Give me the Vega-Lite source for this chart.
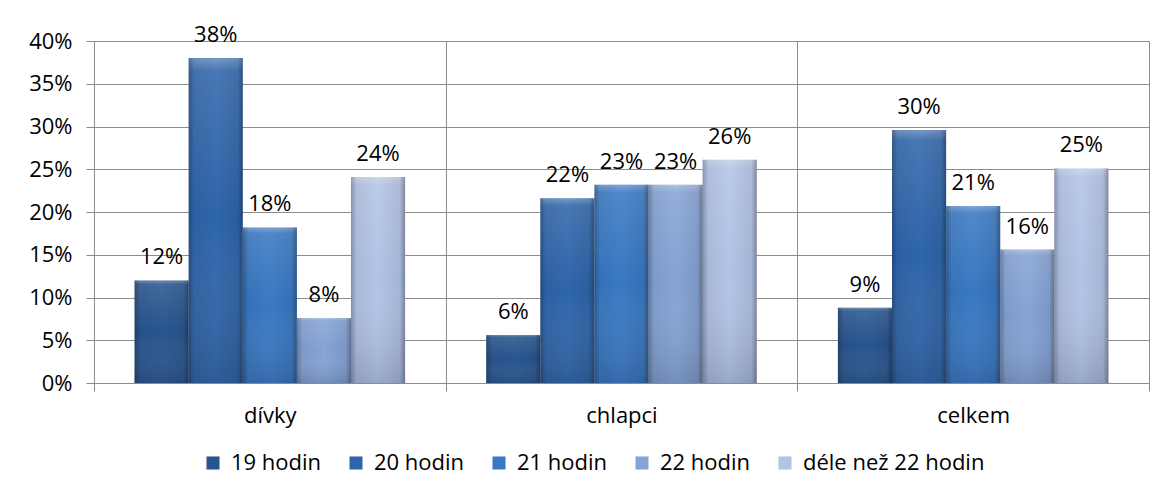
{
  "$schema": "https://vega.github.io/schema/vega-lite/v6.json",
  "width": 1055,
  "height": 342,
  "autosize": {"type": "none"},
  "padding": {"left": 94, "top": 41, "right": 19, "bottom": 109},
  "background": "white",
  "config": {
    "font": "Open Sans",
    "view": {"stroke": null},
    "axis": {"labelColor": "#000000", "labelFontSize": 22, "labelFont": "Open Sans", "title": null, "domainColor": "#8c8c8c", "tickColor": "#8c8c8c", "gridColor": "#8c8c8c", "gridOpacity": 1, "tickSize": 8}
  },
  "data": {
    "values": [
      {"group": "dívky", "series": "19 hodin", "value": 0.120},
      {"group": "dívky", "series": "20 hodin", "value": 0.380},
      {"group": "dívky", "series": "21 hodin", "value": 0.182},
      {"group": "dívky", "series": "22 hodin", "value": 0.076},
      {"group": "dívky", "series": "déle než 22 hodin", "value": 0.241},
      {"group": "chlapci", "series": "19 hodin", "value": 0.056},
      {"group": "chlapci", "series": "20 hodin", "value": 0.216},
      {"group": "chlapci", "series": "21 hodin", "value": 0.232},
      {"group": "chlapci", "series": "22 hodin", "value": 0.232},
      {"group": "chlapci", "series": "déle než 22 hodin", "value": 0.261},
      {"group": "celkem", "series": "19 hodin", "value": 0.088},
      {"group": "celkem", "series": "20 hodin", "value": 0.296},
      {"group": "celkem", "series": "21 hodin", "value": 0.207},
      {"group": "celkem", "series": "22 hodin", "value": 0.156},
      {"group": "celkem", "series": "déle než 22 hodin", "value": 0.251}
    ]
  },
  "encoding": {
    "x": {
      "field": "group", "type": "nominal", "sort": ["dívky", "chlapci", "celkem"],
      "scale": {"paddingInner": 0, "paddingOuter": 0},
      "axis": {"labelAngle": 0, "tickBand": "extent", "grid": true, "labelPadding": 14}
    },
    "xOffset": {
      "field": "series", "type": "nominal",
      "sort": ["19 hodin", "20 hodin", "21 hodin", "22 hodin", "déle než 22 hodin"],
      "scale": {"paddingInner": 0, "paddingOuter": 0.75}
    },
    "y": {
      "field": "value", "type": "quantitative",
      "scale": {"domain": [0, 0.4], "nice": false},
      "axis": {"values": [0, 0.05, 0.1, 0.15, 0.2, 0.25, 0.3, 0.35, 0.4], "format": ".0%", "grid": true, "labelPadding": 14}
    }
  },
  "layer": [
    {
      "mark": {"type": "bar"},
      "encoding": {
        "color": {
          "field": "series", "type": "nominal",
          "sort": ["19 hodin", "20 hodin", "21 hodin", "22 hodin", "déle než 22 hodin"],
          "scale": {"range": ["#28558f", "#2e65ab", "#3878c4", "#85a3d6", "#b2c3e6"]},
          "legend": {
            "title": null, "orient": "none", "direction": "horizontal",
            "legendX": 108, "legendY": 411,
            "symbolType": "square", "symbolSize": 170, "symbolStrokeWidth": 0,
            "labelFontSize": 22, "labelColor": "#000000", "labelOffset": 7,
            "columnPadding": 23, "labelLimit": 400
          }
        }
      }
    },
    {
      "mark": {
        "type": "bar",
        "color": {"gradient": "linear", "x1": 0, "y1": 0, "x2": 0, "y2": 1,
          "stops": [
            {"offset": 0, "color": "rgba(255,255,255,0.35)"},
            {"offset": 0.04, "color": "rgba(255,255,255,0.12)"},
            {"offset": 0.5, "color": "rgba(255,255,255,0.0)"},
            {"offset": 1, "color": "rgba(40,50,70,0.18)"}
          ]}
      }
    },
    {
      "mark": {
        "type": "bar",
        "color": {"gradient": "linear", "x1": 0, "y1": 0, "x2": 1, "y2": 0,
          "stops": [
            {"offset": 0, "color": "rgba(0,0,0,0.28)"},
            {"offset": 0.1, "color": "rgba(0,0,0,0.06)"},
            {"offset": 0.5, "color": "rgba(0,0,0,0.0)"},
            {"offset": 0.9, "color": "rgba(0,0,0,0.08)"},
            {"offset": 1, "color": "rgba(0,0,0,0.32)"}
          ]}
      }
    },
    {
      "mark": {"type": "text", "baseline": "alphabetic", "dy": -16, "fontSize": 22, "color": "#000000", "font": "Open Sans"},
      "encoding": {"text": {"field": "value", "type": "quantitative", "format": ".0%"}}
    }
  ]
}
